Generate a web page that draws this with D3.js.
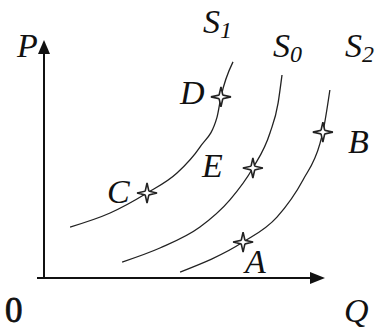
<!DOCTYPE html>
<html>
<head>
<meta charset="utf-8">
<script src="https://cdn.jsdelivr.net/npm/d3@7"></script>
<style>
  body { margin: 0; background: #fff; }
  text { font-family: "Liberation Serif", "DejaVu Serif", serif; fill: #111; }
</style>
</head>
<body>
<div id="chart"></div>
<script>
// Supply curves (Q, P)
const s1 = [[9.3, 21.4], [23.6, 27.3], [36.8, 35.7], [47.5, 44.1], [55.7, 55.0], [61.8, 67.6], [63.2, 76.1], [67.5, 90.8]];
const s0 = [[27.9, 6.7], [41.4, 12.6], [55.7, 21.4], [66.4, 32.8], [74.6, 46.2], [80.7, 60.9], [83.6, 73.5], [85.0, 85.3]];
const s2 = [[48.6, 2.5], [71.1, 15.1], [83.2, 25.6], [92.5, 41.2], [98.6, 56.7], [99.6, 61.3], [102.1, 79.0]];

// Marked points
const pointNames = ["A", "B", "C", "D", "E"];
const pointQ = [71.1, 99.6, 36.8, 63.2, 74.6];
const pointP = [15.1, 61.3, 35.7, 76.1, 46.2];

const curveNames = ["S", "S", "S"];
const curveSubs = ["1", "0", "2"];

const width = 377;
const height = 335;

const svg = d3.select("#chart")
    .append("svg")
    .attr("width", width)
    .attr("height", height);

const x = d3.scaleLinear().domain([0, 100]).range([44, 324]);
const y = d3.scaleLinear().domain([0, 100]).range([278, 40]);

// Axes with arrow heads
svg.append("line")
    .attr("x1", x(0)).attr("y1", y(0))
    .attr("x2", x(0)).attr("y2", y(100) + 10)
    .attr("stroke", "#111").attr("stroke-width", 2);
svg.append("line")
    .attr("x1", x(0) - 7).attr("y1", y(0))
    .attr("x2", x(100) - 12).attr("y2", y(0))
    .attr("stroke", "#111").attr("stroke-width", 2);
svg.append("path")
    .attr("d", `M${x(0)},${y(100)} L${x(0) - 6},${y(100) + 14} L${x(0) + 6},${y(100) + 14} Z`)
    .attr("fill", "#111");
svg.append("path")
    .attr("d", `M${x(100) + 1},${y(0)} L${x(100) - 14},${y(0) - 6} L${x(100) - 14},${y(0) + 6} Z`)
    .attr("fill", "#111");

// Curves
const line = d3.line()
    .x(d => x(d[0]))
    .y(d => y(d[1]))
    .curve(d3.curveMonotoneX);

svg.selectAll("path.supply")
    .data([s1, s0, s2])
    .enter()
    .append("path")
    .attr("class", "supply")
    .attr("d", line)
    .attr("fill", "none")
    .attr("stroke", "#222")
    .attr("stroke-width", 1.3);

// Four pointed star markers
function star(r, ri) {
    let pts = [];
    for (let i = 0; i < 8; i++) {
        const a = i * Math.PI / 4 - Math.PI / 2;
        const rr = i % 2 === 0 ? r : ri;
        pts.push([rr * Math.cos(a), rr * Math.sin(a)]);
    }
    return "M" + pts.map(p => p.join(",")).join("L") + "Z";
}

svg.selectAll("g.pt")
    .data(pointNames)
    .enter()
    .append("g")
    .attr("class", "pt")
    .attr("transform", (d, i) => `translate(${x(pointQ[i])},${y(pointP[i])})`)
    .each(function() {
        const g = d3.select(this);
        g.append("path")
            .attr("d", star(10, 2.6))
            .attr("fill", "#fff")
            .attr("stroke", "#222")
            .attr("stroke-width", 1.6);
        g.append("circle")
            .attr("r", 2)
            .attr("fill", "#fff");
    });

// Labels
const labelPos = {A: [245, 273], B: [348, 153], C: [107, 203], D: [180, 104], E: [202, 177]};
svg.selectAll("text.pl")
    .data(pointNames)
    .enter()
    .append("text")
    .attr("class", "pl")
    .attr("x", d => labelPos[d][0])
    .attr("y", d => labelPos[d][1])
    .attr("font-size", 34)
    .attr("font-style", "italic")
    .text(d => d);

const curveLabelPos = [[203, 33], [273, 57], [345, 57]];
curveNames.forEach((n, i) => {
    const t = svg.append("text")
        .attr("x", curveLabelPos[i][0])
        .attr("y", curveLabelPos[i][1])
        .attr("font-size", 34)
        .attr("font-style", "italic")
        .text(n);
    t.append("tspan")
        .attr("dy", 5)
        .attr("font-size", 24)
        .text(curveSubs[i]);
});

svg.append("text")
    .attr("x", 17).attr("y", 57)
    .attr("font-size", 34)
    .attr("font-style", "italic")
    .text("P");
svg.append("text")
    .attr("x", 344).attr("y", 322)
    .attr("font-size", 34)
    .attr("font-style", "italic")
    .text("Q");
svg.append("text")
    .attr("x", 5).attr("y", 322)
    .attr("font-size", 35)
    .attr("stroke", "#111")
    .attr("stroke-width", 0.8)
    .text("0");
</script>
</body>
</html>
